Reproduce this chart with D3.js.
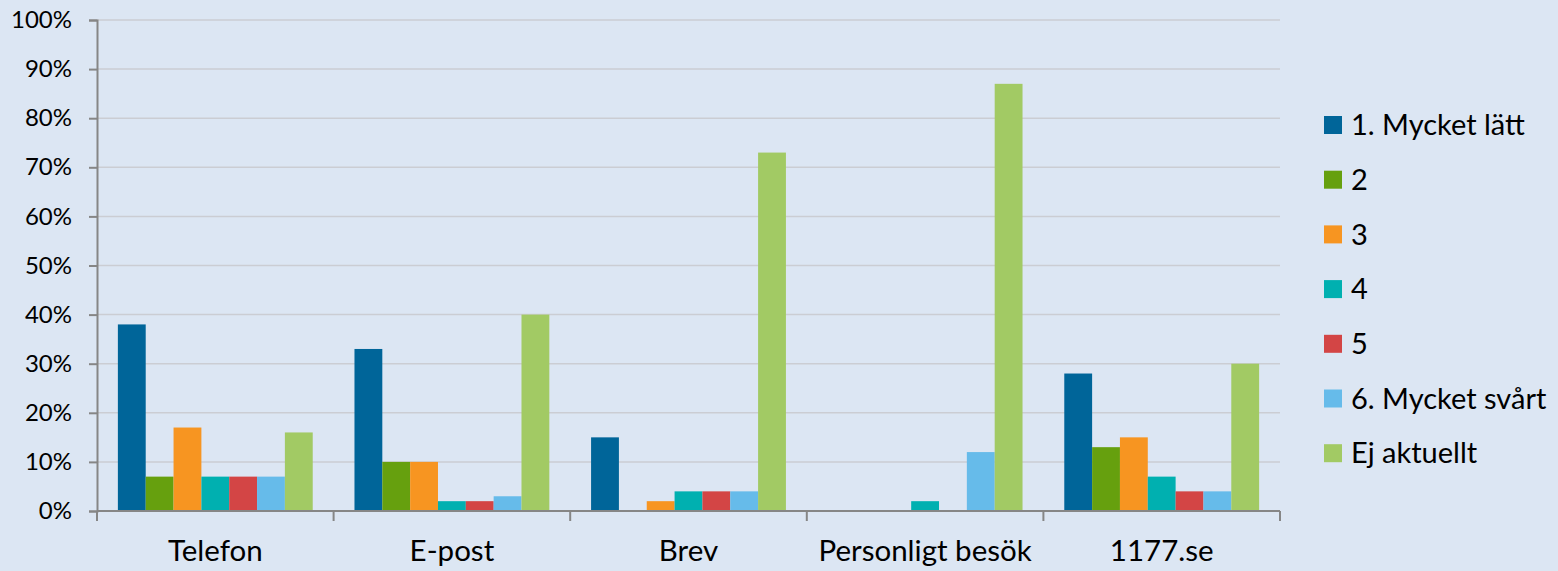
<!DOCTYPE html>
<html>
<head>
<meta charset="utf-8">
<script src="https://cdn.jsdelivr.net/npm/d3@7"></script>
<style>
  body { margin: 0; background: #dce6f3; }
  svg { display: block; font-family: Lato, "Open Sans", sans-serif; }
</style>
</head>
<body>
<div class="chart-box"></div>
<script>
const categories = ["Telefon", "E-post", "Brev", "Personligt besök", "1177.se"];
const seriesNames = ["1. Mycket lätt", "2", "3", "4", "5", "6. Mycket svårt", "Ej aktuellt"];
const seriesColors = ["#006599", "#66a00e", "#f79521", "#00b0b0", "#d34545", "#66bbea", "#a2ca64"];

// one array per answer, values per category (percent)
const mycketLatt = [38, 33, 15, 0, 28];
const svar2 = [7, 10, 0, 0, 13];
const svar3 = [17, 10, 2, 0, 15];
const svar4 = [7, 2, 4, 2, 7];
const svar5 = [7, 2, 4, 0, 4];
const mycketSvart = [7, 3, 4, 12, 4];
const ejAktuellt = [16, 40, 73, 87, 30];
const yTicks = [0, 10, 20, 30, 40, 50, 60, 70, 80, 90, 100];

const series = [mycketLatt, svar2, svar3, svar4, svar5, mycketSvart, ejAktuellt];

const width = 1558, height = 571;
const margin = {top: 20, right: 278, bottom: 60, left: 97};

const svg = d3.select(".chart-box")
  .append("svg")
  .attr("width", width)
  .attr("height", height);

svg.append("rect")
  .attr("width", width)
  .attr("height", height)
  .attr("fill", "#dce6f3");

const x0 = d3.scaleBand()
  .domain(categories)
  .range([margin.left, width - margin.right])
  .paddingInner(0)
  .paddingOuter(0);

// gap width 150% -> 0.75 bar on each side of the group
const x1 = d3.scaleBand()
  .domain(d3.range(seriesNames.length))
  .range([0, x0.bandwidth()])
  .paddingInner(0)
  .paddingOuter(0.75);

const y = d3.scaleLinear()
  .domain([0, 100])
  .range([height - margin.bottom, margin.top]);

// gridlines
svg.append("g")
  .selectAll("line")
  .data(yTicks.filter(t => t > 0))
  .join("line")
  .attr("x1", margin.left)
  .attr("x2", width - margin.right)
  .attr("y1", d => y(d))
  .attr("y2", d => y(d))
  .attr("stroke", "#cbcdd3")
  .attr("stroke-width", 1.5);

// bars
const groups = svg.append("g")
  .selectAll("g")
  .data(categories)
  .join("g")
  .attr("transform", d => "translate(" + x0(d) + ",0)");

groups.selectAll("rect")
  .data((c, ci) => series.map((s, si) => ({si: si, v: s[ci]})))
  .join("rect")
  .filter(d => d.v > 0)
  .attr("x", d => x1(d.si))
  .attr("width", x1.bandwidth())
  .attr("y", d => y(d.v))
  .attr("height", d => y(0) - y(d.v))
  .attr("fill", d => seriesColors[d.si]);

// y axis
const yAxis = svg.append("g")
  .attr("transform", "translate(" + margin.left + ",0)")
  .call(d3.axisLeft(y).tickValues(yTicks).tickFormat(d => d + "%").tickSize(8).tickPadding(17));

// x axis
const xAxis = svg.append("g")
  .attr("transform", "translate(0," + y(0) + ")")
  .call(d3.axisBottom(x0).tickSize(0).tickPadding(29));

// category boundary ticks
svg.append("g")
  .selectAll("line")
  .data(categories.map(c => x0(c)).concat([x0.range()[1]]))
  .join("line")
  .attr("x1", d => d)
  .attr("x2", d => d)
  .attr("y1", y(0))
  .attr("y2", y(0) + 10)
  .attr("stroke", "#868686")
  .attr("stroke-width", 2);

[yAxis, xAxis].forEach(a => {
  a.select(".domain").attr("stroke", "#868686").attr("stroke-width", 2);
  a.selectAll(".tick line").attr("stroke", "#868686").attr("stroke-width", 2);
  a.selectAll("text").attr("fill", "#000").attr("font-family", "Lato, 'Open Sans', sans-serif");
});
yAxis.selectAll("text").attr("font-size", 24);
xAxis.selectAll("text").attr("font-size", 29.5);
xAxis.select(".domain").attr("d", "M" + margin.left + ",0H" + (width - margin.right));

// legend
const legend = svg.append("g")
  .selectAll("g")
  .data(seriesNames)
  .join("g")
  .attr("transform", (d, i) => "translate(1324," + (125 + i * 54.7) + ")");

legend.append("rect")
  .attr("x", 0)
  .attr("y", -9)
  .attr("width", 18)
  .attr("height", 18)
  .attr("fill", (d, i) => seriesColors[i]);

legend.append("text")
  .attr("x", 27)
  .attr("dy", "0.35em")
  .attr("font-size", 29)
  .attr("fill", "#000")
  .text(d => d);
</script>
</body>
</html>
